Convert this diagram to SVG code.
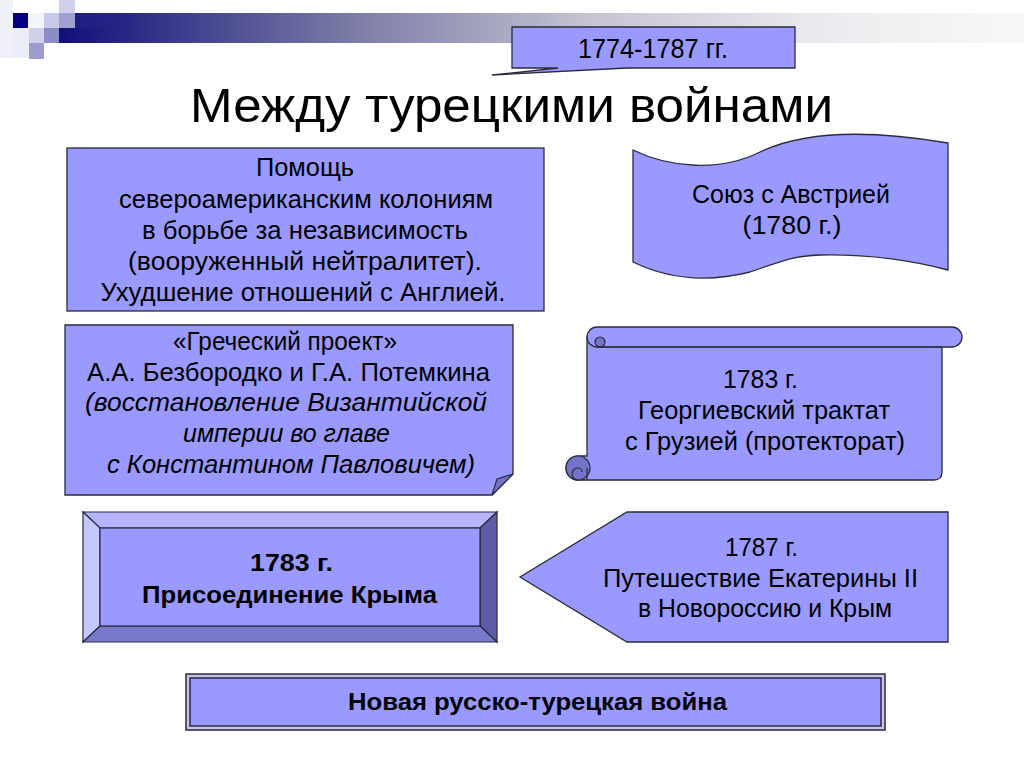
<svg xmlns="http://www.w3.org/2000/svg" width="1024" height="767" viewBox="0 0 1024 767">
<defs>
<linearGradient id="bar" x1="59" y1="0" x2="1024" y2="0" gradientUnits="userSpaceOnUse">
<stop offset="0" stop-color="#10107a"/>
<stop offset="0.3" stop-color="#7a7aa6"/>
<stop offset="0.55" stop-color="#c4c4d2"/>
<stop offset="0.8" stop-color="#ececf0"/>
<stop offset="1" stop-color="#f8f8f8"/>
</linearGradient>
<style>
.shape{fill:#9999ff;stroke:#2b2b3a;stroke-width:1.3}
.dark{fill:#7474c8;stroke:#2b2b3a;stroke-width:1.2}
.t{font-family:"Liberation Sans",Arial,sans-serif;font-size:25px;fill:#000;text-anchor:middle}
.b{font-weight:bold;font-size:24px}
.i{font-style:italic}
</style>
</defs>
<rect width="1024" height="767" fill="#fff"/>
<g id="header">
<rect x="59" y="13" width="965" height="30" fill="url(#bar)"/>
<rect x="75" y="13" width="60" height="15" fill="#26268a" opacity="0.5"/>
<rect x="0" y="0" width="13" height="58" fill="#f0f0f8"/>
<rect x="13" y="28" width="16" height="30" fill="#ececf8"/>
<rect x="13" y="13" width="15" height="15" fill="#000080"/>
<rect x="28" y="13" width="16" height="15" fill="#f4f4fb"/>
<rect x="44" y="13" width="15" height="15" fill="#c8c8e8"/>
<rect x="59" y="0" width="16" height="13" fill="#d0d0ea"/>
<rect x="59" y="13" width="16" height="15" fill="#a0a0d2"/>
<rect x="29" y="28" width="15" height="15" fill="#d0d0ec"/>
<rect x="44" y="28" width="15" height="15" fill="#8c8cc6"/>
<rect x="29" y="43" width="15" height="16" fill="#9c9ccf"/>
</g>
<g id="dates">
<path class="shape" d="M512,27 H795 V68 H627 L492,75 L558,68 H512 Z"/>
<text class="t" x="653" y="58" style="font-size:27px" textLength="150" lengthAdjust="spacingAndGlyphs">1774-1787 гг.</text>
</g>
<g id="title">
<text class="t" x="511.5" y="122" style="font-size:48px" textLength="643" lengthAdjust="spacingAndGlyphs">Между турецкими войнами</text>
</g>
<g id="help">
<rect class="shape" x="67" y="148" width="477" height="163"/>
<text class="t" x="305" y="176" textLength="98" lengthAdjust="spacingAndGlyphs">Помощь</text>
<text class="t" x="306" y="208" textLength="374" lengthAdjust="spacingAndGlyphs">североамериканским колониям</text>
<text class="t" x="305" y="239" textLength="326" lengthAdjust="spacingAndGlyphs">в борьбе за независимость</text>
<text class="t" x="305" y="270" textLength="354" lengthAdjust="spacingAndGlyphs">(вооруженный нейтралитет).</text>
<text class="t" x="303" y="301" textLength="405" lengthAdjust="spacingAndGlyphs">Ухудшение отношений с Англией.</text>
</g>
<g id="austria">
<path class="shape" d="M633,150 C670,168 720,172 760,152 C800,133 860,128 948,143 L948,270 C910,260 870,254 820,255 C790,256 780,262 750,272 C710,282 670,280 633,262 Z"/>
<text class="t" x="791" y="203" textLength="198" lengthAdjust="spacingAndGlyphs">Союз с Австрией</text>
<text class="t" x="792" y="234" textLength="99" lengthAdjust="spacingAndGlyphs">(1780 г.)</text>
</g>
<g id="greek">
<path class="shape" d="M65,325 H513 V474 L492,495 H65 Z"/>
<path class="dark" d="M513,474 L492,495 L497,479 Z"/>
<text class="t" x="285" y="350" textLength="224" lengthAdjust="spacingAndGlyphs">«Греческий проект»</text>
<text class="t" x="288.5" y="381" textLength="403" lengthAdjust="spacingAndGlyphs">А.А. Безбородко и Г.А. Потемкина</text>
<text class="t i" x="286" y="411" textLength="402" lengthAdjust="spacingAndGlyphs">(восстановление Византийской</text>
<text class="t i" x="286.5" y="442" textLength="207" lengthAdjust="spacingAndGlyphs">империи во главе</text>
<text class="t i" x="291" y="473" textLength="368" lengthAdjust="spacingAndGlyphs">с Константином Павловичем)</text>
</g>
<g id="georgia">
<path class="shape" d="M587,337 H942 V472 Q942,480 934,480 H578 A12,12 0 0 1 578,456 H587 Z"/>
<path class="shape" d="M597,327 H952 A10,10 0 0 1 952,347 H597 A10,10 0 0 1 597,327 Z"/>
<circle class="dark" cx="600" cy="342" r="5"/>
<path d="M597,347 H942" fill="none" stroke="#2b2b3a" stroke-width="1.2"/>
<circle class="dark" cx="578" cy="468" r="12"/>
<path d="M578,480 A6,6 0 0 1 578,468 A4,4 0 0 1 582,472 M587,468 V480" fill="none" stroke="#2b2b3a" stroke-width="1.2"/>
<text class="t" x="760.5" y="388" textLength="75" lengthAdjust="spacingAndGlyphs">1783 г.</text>
<text class="t" x="764" y="419" textLength="252" lengthAdjust="spacingAndGlyphs">Георгиевский трактат</text>
<text class="t" x="765" y="450" textLength="280" lengthAdjust="spacingAndGlyphs">с Грузией (протекторат)</text>
</g>
<g id="crimea">
<polygon points="83,512 497,512 480,528 100,528" fill="#b5b5ff" stroke="#2b2b3a" stroke-width="1.2"/>
<polygon points="83,512 100,528 100,626 83,642" fill="#c6c6ff" stroke="#2b2b3a" stroke-width="1.2"/>
<polygon points="497,512 497,642 480,626 480,528" fill="#5c5ca8" stroke="#2b2b3a" stroke-width="1.2"/>
<polygon points="83,642 497,642 480,626 100,626" fill="#7a7acc" stroke="#2b2b3a" stroke-width="1.2"/>
<rect x="100" y="528" width="380" height="98" fill="#9999ff" stroke="#2b2b3a" stroke-width="1.2"/>
<text class="t b" x="291.5" y="571" textLength="83" lengthAdjust="spacingAndGlyphs">1783 г.</text>
<text class="t b" x="289.5" y="603" textLength="295" lengthAdjust="spacingAndGlyphs">Присоединение Крыма</text>
</g>
<g id="journey">
<polygon class="shape" points="520,577 627,512 948,512 948,642 627,642"/>
<text class="t" x="761.5" y="556" textLength="73" lengthAdjust="spacingAndGlyphs">1787 г.</text>
<text class="t" x="760.5" y="587" textLength="315" lengthAdjust="spacingAndGlyphs">Путешествие Екатерины II</text>
<text class="t" x="765" y="617" textLength="254" lengthAdjust="spacingAndGlyphs">в Новороссию и Крым</text>
</g>
<g id="war">
<rect x="186" y="674" width="699" height="56" fill="#c4c4ee" stroke="#2b2b3a" stroke-width="1.5"/>
<rect x="190" y="678" width="691" height="48" fill="#9999ff" stroke="#2b2b3a" stroke-width="1.5"/>
<text class="t b" x="537.5" y="710" textLength="379" lengthAdjust="spacingAndGlyphs">Новая русско-турецкая война</text>
</g>
<g id="connectors"></g>
</svg>
